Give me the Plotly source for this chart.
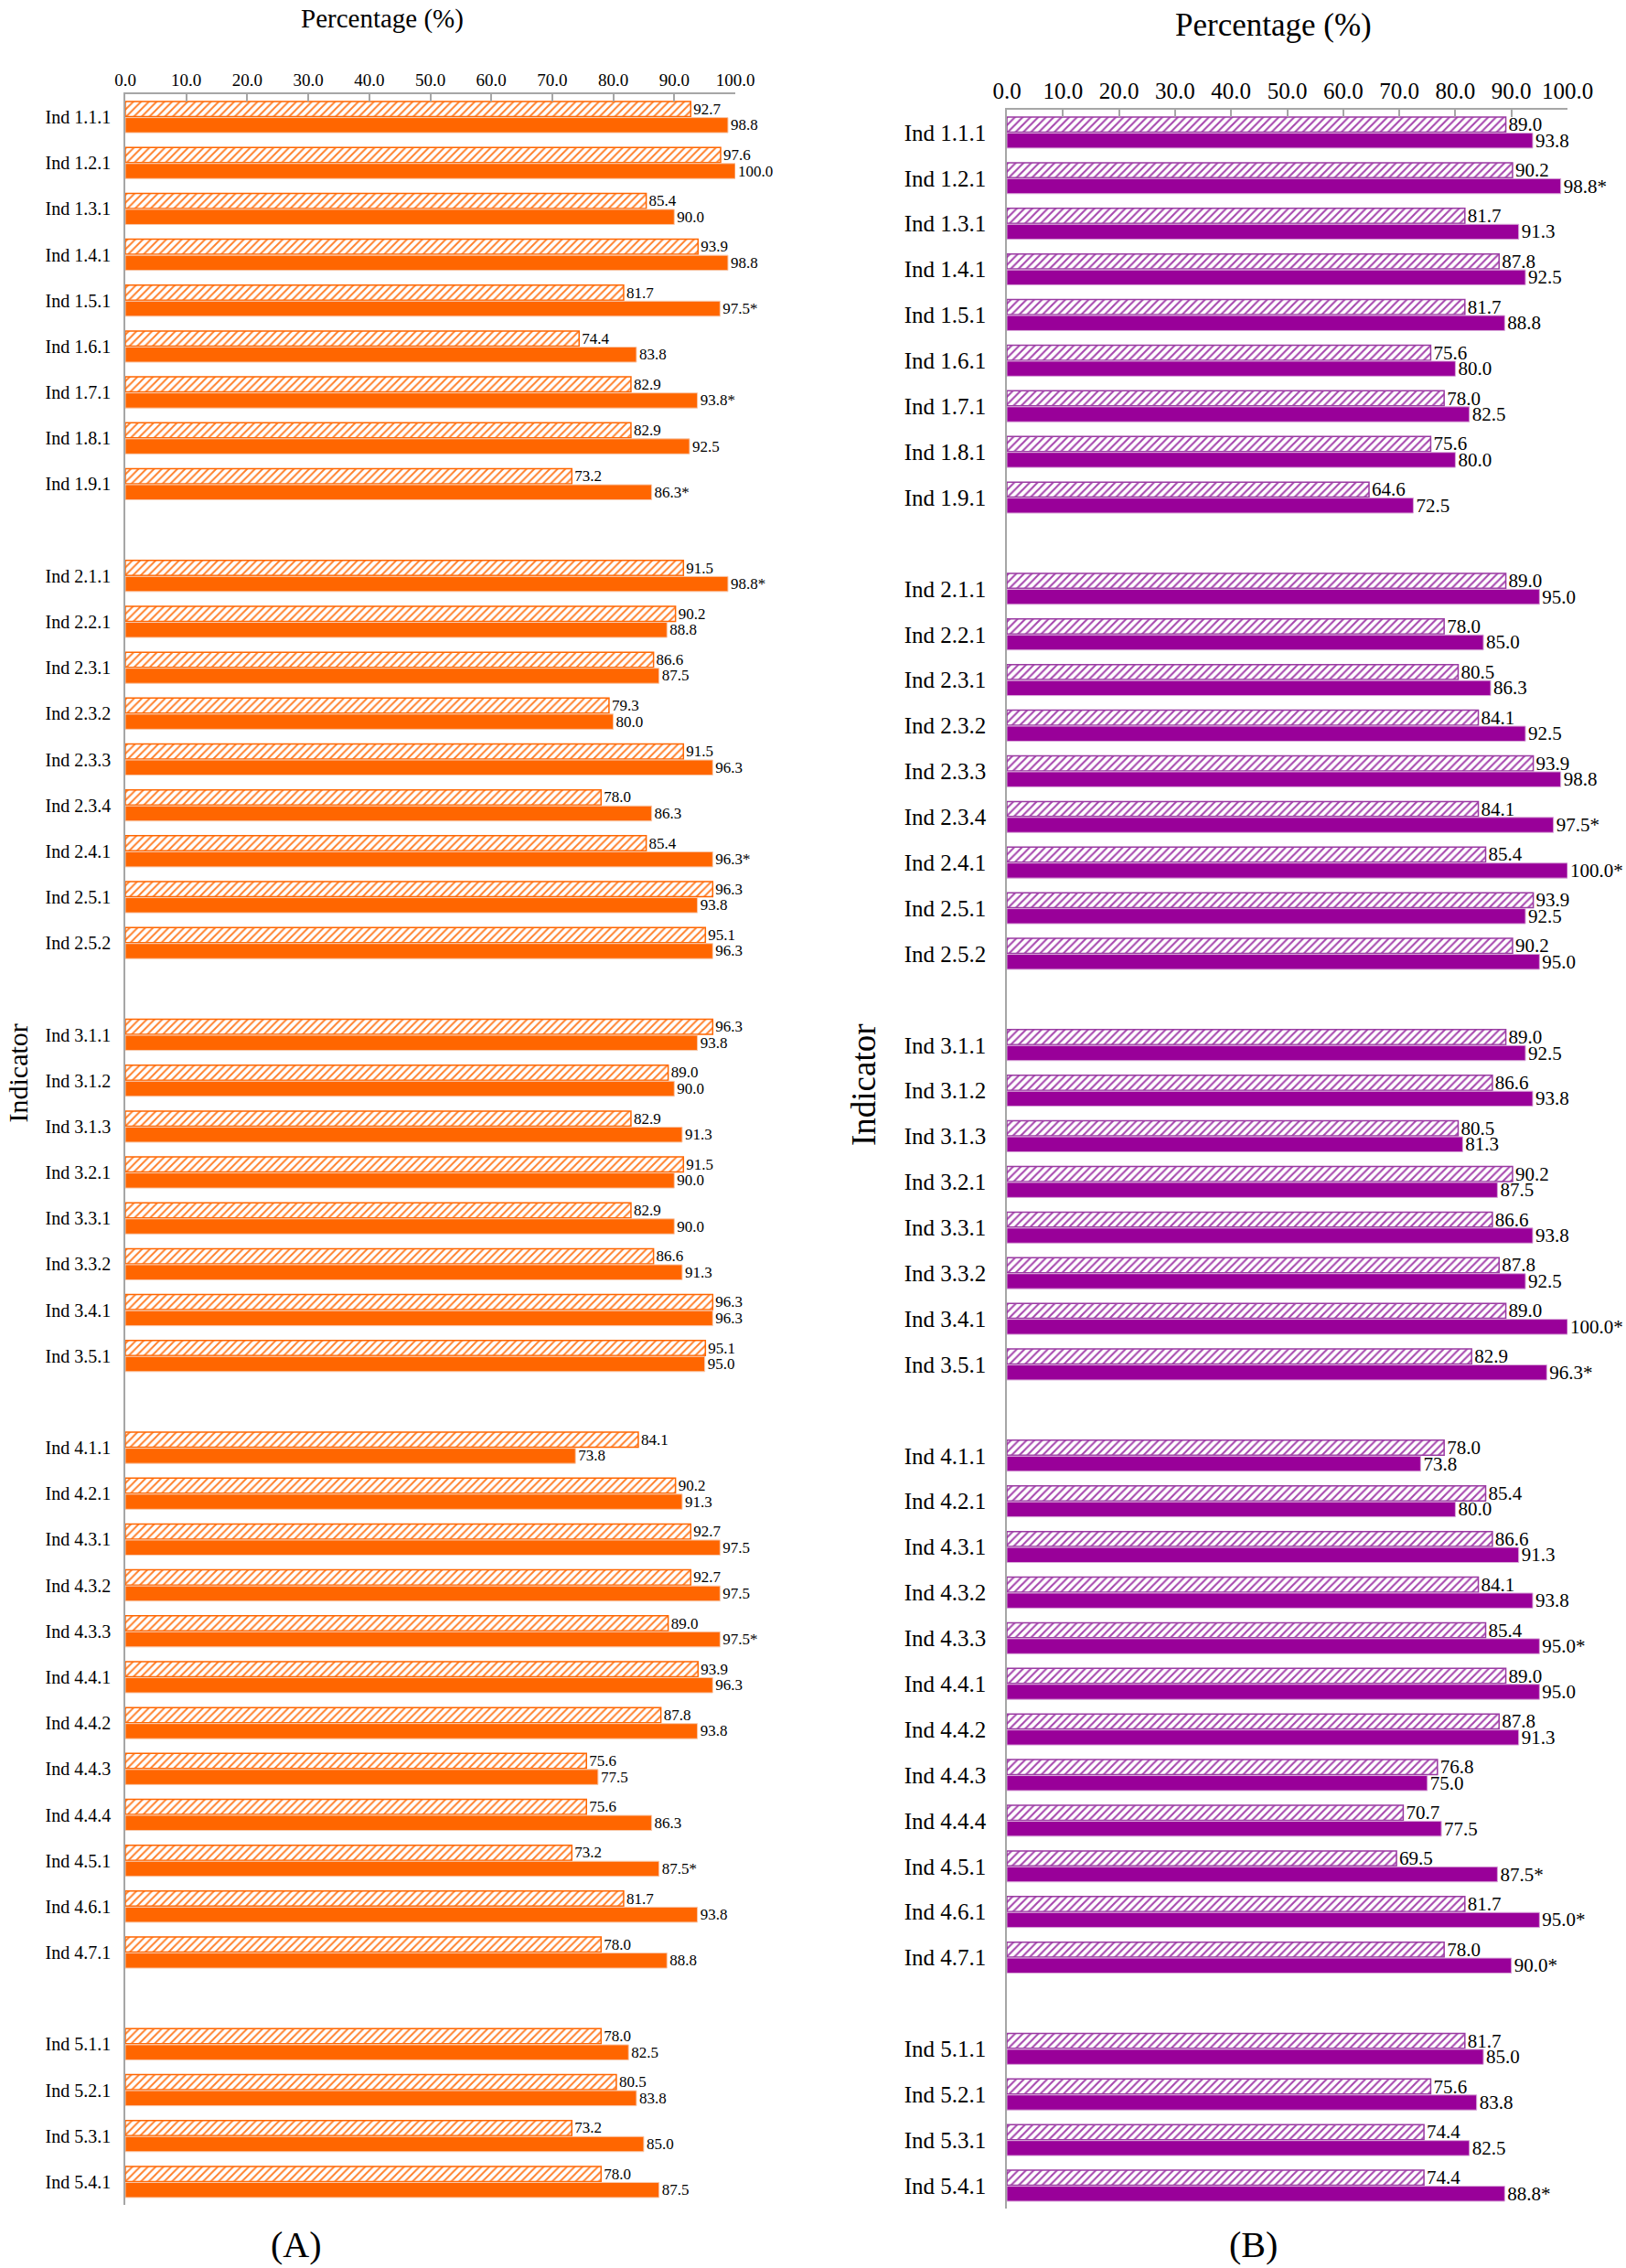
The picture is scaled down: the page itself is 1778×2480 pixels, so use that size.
import plotly.graph_objects as go

# ---------------- data ----------------
group1 = ["Ind 1.1.1", "Ind 1.2.1", "Ind 1.3.1", "Ind 1.4.1", "Ind 1.5.1", "Ind 1.6.1",
          "Ind 1.7.1", "Ind 1.8.1", "Ind 1.9.1"]
group2 = ["Ind 2.1.1", "Ind 2.2.1", "Ind 2.3.1", "Ind 2.3.2", "Ind 2.3.3", "Ind 2.3.4",
          "Ind 2.4.1", "Ind 2.5.1", "Ind 2.5.2"]
group3 = ["Ind 3.1.1", "Ind 3.1.2", "Ind 3.1.3", "Ind 3.2.1", "Ind 3.3.1", "Ind 3.3.2",
          "Ind 3.4.1", "Ind 3.5.1"]
group4 = ["Ind 4.1.1", "Ind 4.2.1", "Ind 4.3.1", "Ind 4.3.2", "Ind 4.3.3", "Ind 4.4.1",
          "Ind 4.4.2", "Ind 4.4.3", "Ind 4.4.4", "Ind 4.5.1", "Ind 4.6.1", "Ind 4.7.1"]
group5 = ["Ind 5.1.1", "Ind 5.2.1", "Ind 5.3.1", "Ind 5.4.1"]
groups = [group1, group2, group3, group4, group5]

# Panel A (orange)
a_hatched = [92.7, 97.6, 85.4, 93.9, 81.7, 74.4, 82.9, 82.9, 73.2,
             91.5, 90.2, 86.6, 79.3, 91.5, 78.0, 85.4, 96.3, 95.1,
             96.3, 89.0, 82.9, 91.5, 82.9, 86.6, 96.3, 95.1,
             84.1, 90.2, 92.7, 92.7, 89.0, 93.9, 87.8, 75.6, 75.6, 73.2, 81.7, 78.0,
             78.0, 80.5, 73.2, 78.0]
a_solid = [98.8, 100.0, 90.0, 98.8, 97.5, 83.8, 93.8, 92.5, 86.3,
           98.8, 88.8, 87.5, 80.0, 96.3, 86.3, 96.3, 93.8, 96.3,
           93.8, 90.0, 91.3, 90.0, 90.0, 91.3, 96.3, 95.0,
           73.8, 91.3, 97.5, 97.5, 97.5, 96.3, 93.8, 77.5, 86.3, 87.5, 93.8, 88.8,
           82.5, 83.8, 85.0, 87.5]
a_solid_sig = ["Ind 1.5.1", "Ind 1.7.1", "Ind 1.9.1", "Ind 2.1.1", "Ind 2.4.1",
               "Ind 4.3.3", "Ind 4.5.1"]

# Panel B (purple)
b_hatched = [89.0, 90.2, 81.7, 87.8, 81.7, 75.6, 78.0, 75.6, 64.6,
             89.0, 78.0, 80.5, 84.1, 93.9, 84.1, 85.4, 93.9, 90.2,
             89.0, 86.6, 80.5, 90.2, 86.6, 87.8, 89.0, 82.9,
             78.0, 85.4, 86.6, 84.1, 85.4, 89.0, 87.8, 76.8, 70.7, 69.5, 81.7, 78.0,
             81.7, 75.6, 74.4, 74.4]
b_solid = [93.8, 98.8, 91.3, 92.5, 88.8, 80.0, 82.5, 80.0, 72.5,
           95.0, 85.0, 86.3, 92.5, 98.8, 97.5, 100.0, 92.5, 95.0,
           92.5, 93.8, 81.3, 87.5, 93.8, 92.5, 100.0, 96.3,
           73.8, 80.0, 91.3, 93.8, 95.0, 95.0, 91.3, 75.0, 77.5, 87.5, 95.0, 90.0,
           85.0, 83.8, 82.5, 88.8]
b_solid_sig = ["Ind 1.2.1", "Ind 2.3.4", "Ind 2.4.1", "Ind 3.4.1", "Ind 3.5.1",
               "Ind 4.3.3", "Ind 4.5.1", "Ind 4.6.1", "Ind 4.7.1", "Ind 5.4.1"]

tick_values = [0, 10, 20, 30, 40, 50, 60, 70, 80, 90, 100]

# ---------------- build ----------------
categories = [c for g in groups for c in g]
category_order = []
for i, g in enumerate(groups):
    category_order += g
    if i < len(groups) - 1:
        category_order.append(" " * (i + 1))
n_slots = len(category_order)


def labels(vals, cats, sig):
    return [f"{v:.1f}" + ("*" if c in sig else "") for v, c in zip(vals, cats)]


FONT = "Times New Roman, Liberation Serif, DejaVu Serif, serif"
W, H = 1778, 2480


def px_x(p):
    return p / W


def px_y(p):
    return 1 - p / H


fig = go.Figure()

panels = [
    dict(h=a_hatched, s=a_solid, sig=a_solid_sig, solid="#FF6600", hatch="#FF7F2A",
         hatch_line="#FF6600", solid_line="#F7C9AE", xa="x", ya="y", txt=17, solidity=0.32),
    dict(h=b_hatched, s=b_solid, sig=b_solid_sig, solid="#990099", hatch="#A646AE",
         hatch_line="#9A3AA2", solid_line="#D8A8D8", xa="x2", ya="y2", txt=21, solidity=0.35),
]

for p in panels:
    fig.add_trace(go.Bar(
        y=categories, x=p["h"], orientation="h",
        marker=dict(color="white",
                    line=dict(color=p["hatch_line"], width=1.5),
                    pattern=dict(shape="/", fgcolor=p["hatch"], bgcolor="white",
                                 size=6, solidity=p["solidity"], fillmode="replace")),
        text=labels(p["h"], categories, []), textposition="outside",
        textfont=dict(family=FONT, size=p["txt"], color="black"),
        cliponaxis=False, constraintext="none",
        xaxis=p["xa"], yaxis=p["ya"], showlegend=False,
    ))
    fig.add_trace(go.Bar(
        y=categories, x=p["s"], orientation="h",
        marker=dict(color=p["solid"], line=dict(color=p["solid_line"], width=1)),
        text=labels(p["s"], categories, p["sig"]), textposition="outside",
        textfont=dict(family=FONT, size=p["txt"], color="black"),
        cliponaxis=False, constraintext="none",
        xaxis=p["xa"], yaxis=p["ya"], showlegend=False,
    ))

axis_grey = "#A6A6A6"


def xaxis_cfg(domain, anchor, tick_size):
    return dict(domain=domain, anchor=anchor, side="top", range=[0, 100],
                tickvals=tick_values, tickformat=".1f", automargin=False,
                ticks="inside", ticklen=8, tickcolor=axis_grey, tickwidth=1.5,
                showline=True, linecolor=axis_grey, linewidth=1.5,
                showgrid=False, zeroline=False,
                tickfont=dict(family=FONT, size=tick_size, color="black"))


def yaxis_cfg(domain, anchor, lab_size, standoff):
    return dict(domain=domain, anchor=anchor, type="category", automargin=False,
                categoryorder="array", categoryarray=category_order,
                range=[n_slots - 0.5, -0.5],
                showline=True, linecolor=axis_grey, linewidth=1.5,
                ticks="", showgrid=False, zeroline=False,
                ticklabelstandoff=standoff,
                tickfont=dict(family=FONT, size=lab_size, color="black"))


fig.update_layout(
    width=W, height=H,
    margin=dict(l=0, r=0, t=0, b=0, autoexpand=False),
    paper_bgcolor="white", plot_bgcolor="white",
    barmode="group", bargap=0.30, bargroupgap=0.06,
    xaxis=xaxis_cfg([px_x(137), px_x(804)], "y", 19),
    yaxis=yaxis_cfg([px_y(2411), px_y(103)], "x", 20, 10),
    xaxis2=xaxis_cfg([px_x(1101), px_x(1714)], "y2", 25),
    yaxis2=yaxis_cfg([px_y(2415), px_y(120)], "x2", 25, 16),
)

annots = [
    dict(text="Percentage (%)", x=px_x(418), y=px_y(2), size=29, angle=0, xa="center", ya="top"),
    dict(text="Percentage (%)", x=px_x(1392), y=px_y(28), size=35, angle=0, xa="center", ya="middle"),
    dict(text="Indicator", x=px_x(0), y=px_y(1174), size=30, angle=-90, xa="left", ya="middle"),
    dict(text="Indicator", x=px_x(944), y=px_y(1186), size=37, angle=-90, xa="center", ya="middle"),
    dict(text="(A)", x=px_x(324), y=px_y(2454), size=40, angle=0, xa="center", ya="middle"),
    dict(text="(B)", x=px_x(1370), y=px_y(2454), size=40, angle=0, xa="center", ya="middle"),
]
for a in annots:
    fig.add_annotation(text=a["text"], x=a["x"], y=a["y"], xref="paper", yref="paper",
                       showarrow=False, textangle=a["angle"],
                       xanchor=a["xa"], yanchor=a["ya"],
                       font=dict(family=FONT, size=a["size"], color="black"))

fig.write_html("out.html",
               config={"displayModeBar": False},
               post_script="document.body.style.margin='0';"
                           "document.documentElement.style.overflow='hidden';")
